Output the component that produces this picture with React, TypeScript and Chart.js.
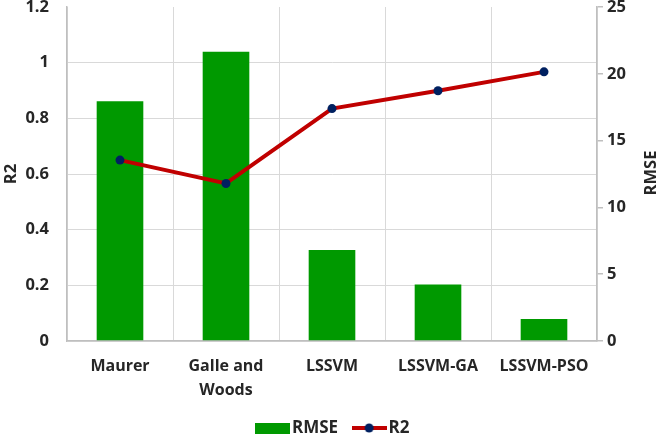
import React, { useEffect, useRef } from 'react';
import { Chart, registerables } from 'chart.js';

Chart.register(...registerables);

const categories: string[][] = [['Maurer'], ['Galle and', 'Woods'], ['LSSVM'], ['LSSVM-GA'], ['LSSVM-PSO']];
const rmseValues = [17.95, 21.65, 6.82, 4.22, 1.65];
const r2Values = [0.65, 0.566, 0.835, 0.899, 0.967];
const r2Range = [0, 1.2, 0.2];
const rmseRange = [0, 25, 5];
const seriesNames = ['RMSE', 'R2'];
const axisTitles = ['R2', 'RMSE'];

const GREEN = '#009900';
const RED = '#C00000';
const NAVY = '#002060';
const TEXT = '#262626';
const GRID = '#d9d9d9';
const AXIS = '#bfbfbf';
const FONT = '"Open Sans", Lato, sans-serif';
const FS_X = 16;
const FS_TICK = 16.5;
const FS_LEG = 17;

export default function App() {
  const ref = useRef<HTMLCanvasElement | null>(null);

  useEffect(() => {
    if (!ref.current) return;

    const boxImg = document.createElement('canvas');
    boxImg.width = 35;
    boxImg.height = 11;
    {
      const c = boxImg.getContext('2d')!;
      c.fillStyle = GREEN;
      c.fillRect(0, 0, 35, 11);
    }
    const lineImg = document.createElement('canvas');
    lineImg.width = 35;
    lineImg.height = 12;
    {
      const c = lineImg.getContext('2d')!;
      c.strokeStyle = RED;
      c.lineWidth = 4;
      c.beginPath();
      c.moveTo(0, 6);
      c.lineTo(35, 6);
      c.stroke();
      c.fillStyle = NAVY;
      c.beginPath();
      c.arc(17.5, 6, 4.5, 0, Math.PI * 2);
      c.fill();
    }

    const rightTitle = {
      id: 'rightTitle',
      afterLayout(chart: any) {
        if (chart.legend) {
          chart.legend.left += 5;
          chart.legend.right += 5;
        }
      },
      afterDraw(chart: any) {
        const { ctx, chartArea } = chart;
        ctx.save();
        ctx.translate(651, (chartArea.top + chartArea.bottom) / 2 - 1);
        ctx.rotate(-Math.PI / 2);
        ctx.font = `bold ${FS_TICK}px ${FONT}`;
        ctx.fillStyle = TEXT;
        ctx.textAlign = 'center';
        ctx.textBaseline = 'middle';
        ctx.fillText(axisTitles[1], 0, 0);
        ctx.restore();
      },
    };

    const chart = new Chart(ref.current, {
      data: {
        labels: categories,
        datasets: [
          {
            type: 'line',
            label: seriesNames[1],
            data: r2Values,
            yAxisID: 'y',
            borderColor: RED,
            borderWidth: 4,
            pointRadius: 4.5,
            pointBackgroundColor: NAVY,
            pointBorderColor: NAVY,
            pointBorderWidth: 0,
            order: 0,
          } as any,
          {
            type: 'bar',
            label: seriesNames[0],
            data: rmseValues,
            yAxisID: 'y1',
            backgroundColor: GREEN,
            borderWidth: 0,
            categoryPercentage: 1,
            barPercentage: 0.44,
            order: 1,
          } as any,
        ],
      },
      options: {
        animation: false,
        responsive: true,
        maintainAspectRatio: false,
        layout: { padding: { top: 7, left: 0, right: 0, bottom: -9.5 } },
        plugins: {
          tooltip: { enabled: false },
          legend: {
            position: 'bottom',
            labels: {
              usePointStyle: true,
              pointStyleWidth: 22,
              boxHeight: FS_LEG,
              padding: 20,
              color: TEXT,
              font: { family: FONT, size: FS_LEG, weight: 'bold' },
              generateLabels: () => [
                { text: seriesNames[0], pointStyle: boxImg as any, fillStyle: GREEN, strokeStyle: GREEN, lineWidth: 0, hidden: false, datasetIndex: 1, fontColor: TEXT },
                { text: seriesNames[1], pointStyle: lineImg as any, fillStyle: RED, strokeStyle: RED, lineWidth: 0, hidden: false, datasetIndex: 0, fontColor: TEXT },
              ],
            },
          },
        },
        scales: {
          x: {
            offset: true,
            grid: { offset: true, color: GRID, lineWidth: 1, drawTicks: false },
            border: { color: AXIS, width: 1.5 },
            ticks: {
              color: TEXT,
              padding: 14,
              maxRotation: 0,
              autoSkip: false,
              font: { family: FONT, size: FS_X, weight: 'bold', lineHeight: 1.49 },
            },
            afterFit: (s: any) => { s.height = 58.5; },
          },
          y: {
            position: 'left',
            min: r2Range[0],
            max: r2Range[1],
            ticks: {
              stepSize: r2Range[2],
              padding: 18,
              color: TEXT,
              font: { family: FONT, size: FS_TICK, weight: 'bold' },
              callback: (v: any) => String(Number(Number(v).toFixed(1))),
            },
            grid: {
              color: (c: any) => (c.tick && Math.abs(c.tick.value - r2Range[1]) < 1e-6 ? 'rgba(0,0,0,0)' : GRID),
              lineWidth: 1,
              drawTicks: false,
            },
            border: { color: AXIS, width: 1.5 },
            title: {
              display: true,
              text: axisTitles[0],
              color: TEXT,
              padding: { top: 1, bottom: 0 },
              font: { family: FONT, size: FS_TICK, weight: 'bold' },
            },
            afterFit: (s: any) => { s.width = 67; s.paddingTop = 0; s.paddingBottom = 0; },
          },
          y1: {
            position: 'right',
            min: rmseRange[0],
            max: rmseRange[1],
            ticks: {
              stepSize: rmseRange[2],
              padding: 4,
              color: TEXT,
              font: { family: FONT, size: FS_TICK, weight: 'bold' },
            },
            grid: { drawOnChartArea: false, drawTicks: true, tickLength: 6, color: AXIS, lineWidth: 1.5 },
            border: { color: AXIS, width: 1.5 },
            afterFit: (s: any) => { s.width = 64; s.paddingTop = 0; s.paddingBottom = 0; },
          },
        },
      } as any,
      plugins: [rightTitle],
    });

    return () => chart.destroy();
  }, []);

  return (
    <div style={{ position: 'fixed', left: 0, top: 0, width: 661, height: 437, background: '#fff' }}>
      <canvas ref={ref} />
    </div>
  );
}
